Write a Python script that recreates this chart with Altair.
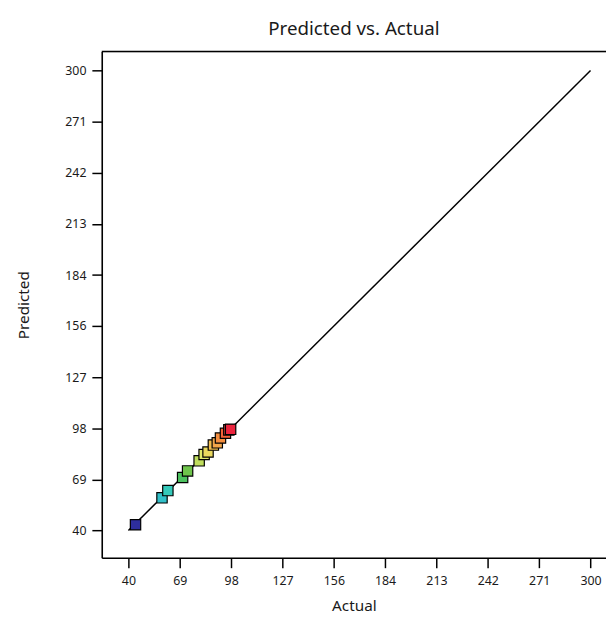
import altair as alt
import pandas as pd

# Data
actual = [44.0, 58.9, 62.2, 70.5, 73.3, 79.8, 82.6, 84.8, 87.8, 90.0, 91.8, 94.6, 96.5, 97.5]
predicted = [43.3, 58.5, 62.6, 70.0, 73.7, 79.4, 83.0, 84.4, 88.3, 89.6, 92.3, 95.0, 96.9, 97.2]

diag_x = [40, 300]
diag_y = [40, 300]

tick_values = [40, 68.9, 97.8, 126.7, 155.6, 184.4, 213.3, 242.2, 271.1, 300]

rainbow = ["#2e2e9e", "#4ec9c9", "#5cbf4a", "#e4ea6c", "#f4a64a", "#ef4a3a"]
color_stops = [44, 60, 72, 83, 90, 96]

pts = pd.DataFrame({"Actual": actual, "Predicted": predicted})
diag = pd.DataFrame({"Actual": diag_x, "Predicted": diag_y})
one_row = pd.DataFrame({"k": [0]})

FONT = "Noto Sans"
W, H = 511, 513
xdom = [25.0, 308.7]
ydom = [24.6, 310.7]

xaxis = alt.Axis(values=tick_values, format=".0f", title="Actual", grid=False,
                 domainColor="black", domainWidth=1.6, tickColor="black", tickWidth=1.5,
                 tickSize=10, labelPadding=7, labelFontSize=12.5, labelColor="#1a1a1a",
                 labelFont=FONT, titleFont=FONT, titleFontSize=15.5, titleFontWeight="normal",
                 titleColor="#1a1a1a", titlePadding=12)
yaxis = alt.Axis(values=tick_values, format=".0f", title="Predicted", grid=False,
                 domainColor="black", domainWidth=1.6, tickColor="black", tickWidth=1.5,
                 tickSize=10, labelPadding=6, labelFontSize=12.5, labelColor="#1a1a1a",
                 labelFont=FONT, titleFont=FONT, titleFontSize=15.5, titleFontWeight="normal",
                 titleColor="#1a1a1a", titlePadding=34)

x = alt.X("Actual:Q", scale=alt.Scale(domain=xdom, nice=False, zero=False), axis=xaxis)
y = alt.Y("Predicted:Q", scale=alt.Scale(domain=ydom, nice=False, zero=False), axis=yaxis)

line = alt.Chart(diag).mark_line(color="black", strokeWidth=1.5, clip=True).encode(x=x, y=y)

points = alt.Chart(pts).mark_point(shape="square", filled=True, size=110, opacity=1,
                                   stroke="black", strokeWidth=1.2).encode(
    x=x, y=y,
    color=alt.Color("Actual:Q", scale=alt.Scale(domain=color_stops, range=rainbow),
                    legend=None),
    order=alt.Order("Actual:Q"),
)

top = alt.Chart(one_row).mark_rule(color="black", strokeWidth=1.6).encode(
    x=alt.value(0), x2=alt.value(W), y=alt.value(0))

chart = alt.layer(line, points, top).properties(
    width=W, height=H,
    title=alt.TitleParams("Predicted vs. Actual", font=FONT, fontSize=19, fontWeight="normal",
                          color="#1a1a1a", offset=12, anchor="middle"),
    autosize=alt.AutoSizeParams(type="none"),
    padding={"left": 95, "top": 40, "right": 0, "bottom": 70},
).configure_view(stroke=None).configure(background="white")

chart.save("out.html", embed_options={"renderer": "svg", "actions": False})
